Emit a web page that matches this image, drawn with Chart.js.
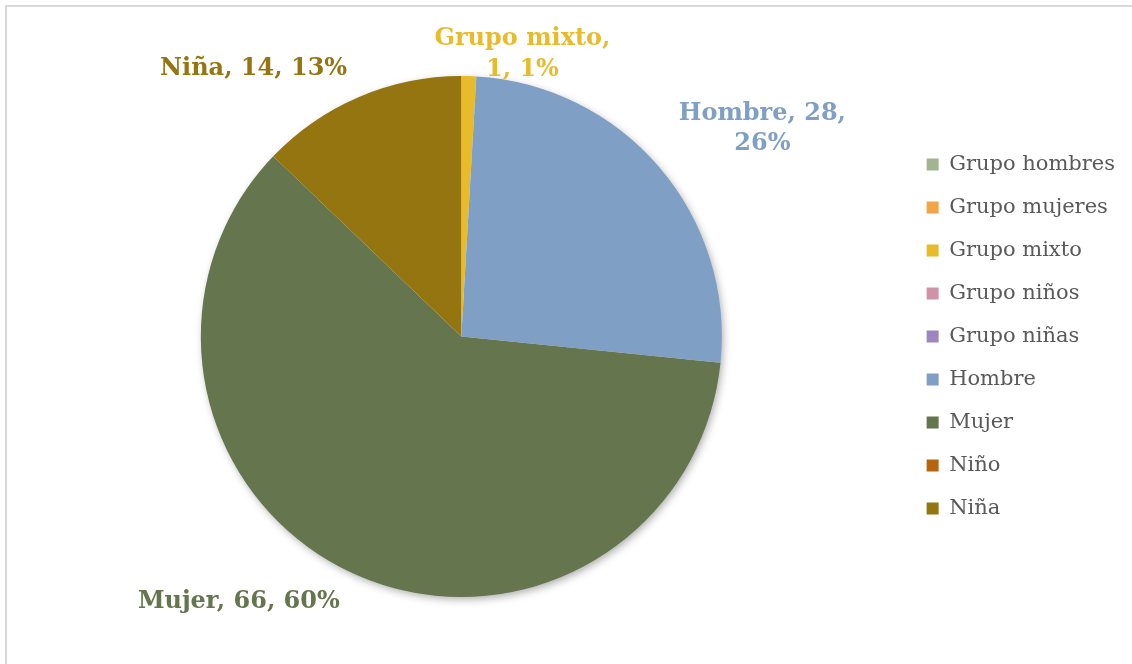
<!DOCTYPE html>
<html lang="es">
<head>
<meta charset="utf-8">
<title>Distribución por tipo</title>
<script src="https://cdn.jsdelivr.net/npm/chart.js@4.4.1/dist/chart.umd.min.js"></script>
<style>
  html, body { margin: 0; padding: 0; background: #fff; }
  body { width: 1132px; height: 664px; overflow: hidden; position: relative; }
  /* marco gris del área del gráfico (solo asoman los bordes superior e izquierdo) */
  .marco { position: absolute; left: 5px; top: 5px; width: 1150px; height: 680px;
           border-top: 2px solid #d9d9d9; border-left: 2px solid #d9d9d9; }
  #pieChart { position: absolute; left: 0; top: 0; }
</style>
</head>
<body>
<div class="marco"></div>
<canvas id="pieChart" width="1132" height="664"></canvas>
<script>
const categories = ['Grupo hombres', 'Grupo mujeres', 'Grupo mixto', 'Grupo niños', 'Grupo niñas', 'Hombre', 'Mujer', 'Niño', 'Niña'];
const counts = [0, 0, 1, 0, 0, 28, 66, 0, 14];
const percents = [0, 0, 1, 0, 0, 26, 60, 0, 13];

const sliceColors = ['#a3b58f', '#f3a447', '#e8bb2b', '#d092a7', '#9e85c0', '#7f9fc4', '#65754e', '#b5650d', '#94750f'];

const SERIF = "'DejaVu Serif', 'Liberation Serif', serif";
const LABEL_FONT = 'bold 24px ' + SERIF;
const LINE_H = 30.5;
const WRAP_AT = 208.5;
const GAP = 20;
const PAD_X = 4;      // aire horizontal de la caja de la etiqueta
const TRIM_Y = 10;    // el interlineado sobra arriba y abajo del texto
const TOP_MIN = 24;

// sombra suave detrás del pastel
const pieShadow = {
  id: 'pieShadow',
  beforeDatasetsDraw(chart) {
    const arc = chart.getDatasetMeta(0).data[0];
    if (!arc) return;
    const { x, y, outerRadius } = arc.getProps(['x', 'y', 'outerRadius'], true);
    const ctx = chart.ctx;
    ctx.save();
    ctx.shadowColor = 'rgba(0,0,0,0.35)';
    ctx.shadowBlur = 9;
    ctx.shadowOffsetX = 2;
    ctx.shadowOffsetY = 3;
    ctx.fillStyle = '#fff';
    ctx.beginPath();
    ctx.arc(x, y, outerRadius - 1, 0, Math.PI * 2);
    ctx.fill();
    ctx.restore();
  }
};

function wrapLabel(ctx, text, maxW) {
  const words = text.split(' ');
  const lines = [];
  let line = '';
  words.forEach(w => {
    const test = line ? line + ' ' + w : w;
    if (line && ctx.measureText(test).width > maxW) { lines.push(line); line = w; }
    else line = test;
  });
  lines.push(line);
  return lines;
}

// etiquetas "categoría, valor, %" fuera de cada porción
const sliceLabels = {
  id: 'sliceLabels',
  afterDatasetsDraw(chart) {
    const ctx = chart.ctx;
    const meta = chart.getDatasetMeta(0);
    ctx.save();
    ctx.font = LABEL_FONT;
    ctx.textAlign = 'center';
    ctx.textBaseline = 'middle';
    meta.data.forEach((arc, i) => {
      if (!counts[i]) return;
      const { x, y, startAngle, endAngle, outerRadius } =
        arc.getProps(['x', 'y', 'startAngle', 'endAngle', 'outerRadius'], true);
      const mid = (startAngle + endAngle) / 2;
      const ux = Math.cos(mid), uy = Math.sin(mid);
      const ax = x + ux * (outerRadius + GAP);
      const ay = y + uy * (outerRadius + GAP);
      const lines = wrapLabel(ctx, `${categories[i]}, ${counts[i]}, ${percents[i]}%`, WRAP_AT);
      const w = Math.max(...lines.map(l => ctx.measureText(l).width)) + 2 * PAD_X;
      const h = lines.length * LINE_H;
      const cx = ax + Math.sign(ux) * w / 2 * Math.min(1, Math.abs(ux) * 20);
      let cy = ay + Math.sign(uy) * (h - TRIM_Y) / 2 * Math.min(1, Math.abs(uy) * 20);
      cy = Math.max(cy, TOP_MIN + h / 2);
      ctx.fillStyle = sliceColors[i];
      lines.forEach((l, k) => ctx.fillText(l, cx, cy - h / 2 + LINE_H * (k + 0.5)));
    });
    ctx.restore();
  }
};

const ctx = document.getElementById('pieChart').getContext('2d');
new Chart(ctx, {
  type: 'pie',
  data: {
    labels: categories,
    datasets: [{
      data: counts,
      backgroundColor: sliceColors,
      borderWidth: 0,
      hoverOffset: 0
    }]
  },
  options: {
    responsive: false,
    animation: false,
    layout: { padding: { left: 18, right: 7, top: 76, bottom: 67 } },
    plugins: {
      tooltip: { enabled: false },
      legend: {
        position: 'right',
        labels: {
          boxWidth: 12,
          boxHeight: 12,
          padding: 22,
          color: '#595959',
          font: { size: 21, family: SERIF }
        }
      }
    }
  },
  plugins: [pieShadow, sliceLabels]
});
</script>
</body>
</html>
